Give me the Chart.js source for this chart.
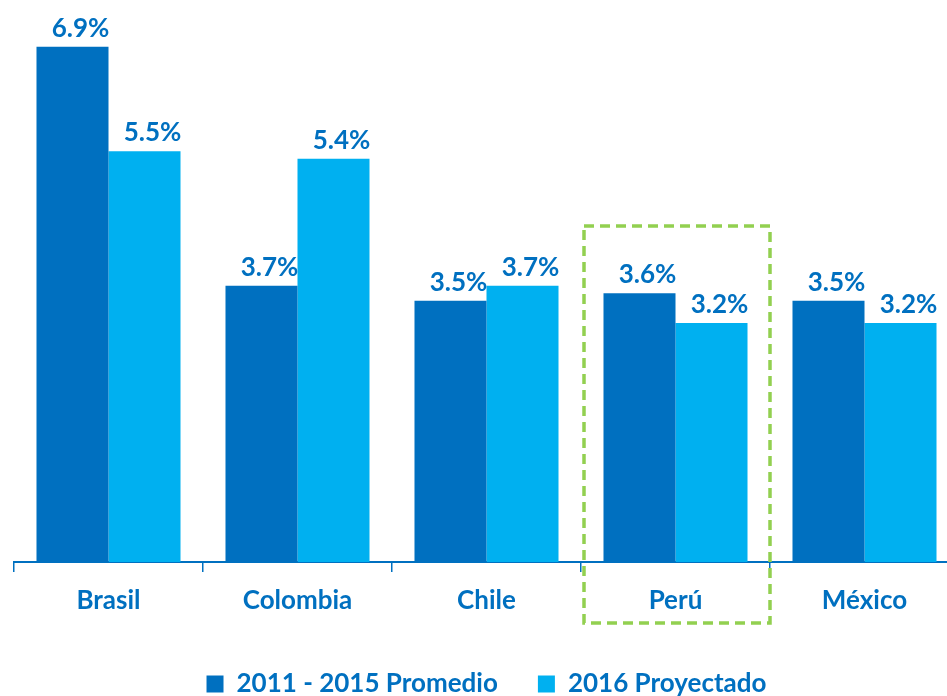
<!DOCTYPE html>
<html>
<head>
<meta charset="utf-8">
<script src="https://cdn.jsdelivr.net/npm/chart.js@4"></script>
<style>
  html, body { margin: 0; padding: 0; background: #fff; overflow: hidden; }
  #wrap { position: relative; width: 987px; height: 696px; }
</style>
</head>
<body>
<div id="wrap"><canvas id="c"></canvas></div>
<script>
const categories = ['Brasil', 'Colombia', 'Chile', 'Perú', 'México'];
const seriesNames = ['2011 - 2015 Promedio', '2016 Proyectado'];
const promedio = [6.9, 3.7, 3.5, 3.6, 3.5];
const proyectado = [5.5, 5.4, 3.7, 3.2, 3.2];
const highlightCategory = 'Perú';

const DARK = '#0070C0';
const LIGHT = '#00B0F0';
const TEXT = '#0070C0';
const GREEN = '#92D050';
const FONT = 'Lato';

const labelPlugin = {
  id: 'valueLabels',
  afterDatasetsDraw(chart) {
    const ctx = chart.ctx;
    ctx.save();
    ctx.font = 'bold 26px ' + FONT;
    ctx.fillStyle = TEXT;
    ctx.textAlign = 'center';
    ctx.textBaseline = 'alphabetic';
    chart.data.datasets.forEach((ds, di) => {
      const meta = chart.getDatasetMeta(di);
      meta.data.forEach((bar, i) => {
        const v = ds.data[i];
        ctx.fillText(v.toFixed(1) + '%', bar.x + 8, bar.y - 10);
      });
    });
    ctx.restore();
  }
};

const boxPlugin = {
  id: 'highlightBox',
  afterDatasetsDraw(chart) {
    const xs = chart.scales.x, ys = chart.scales.y;
    const idx = categories.indexOf(highlightCategory);
    const cx = xs.getPixelForValue(idx);
    const half = (xs.getPixelForValue(1) - xs.getPixelForValue(0)) / 2;
    const left = cx - half + 3, right = cx + half;
    const top = ys.getPixelForValue(4.5);
    const bottom = chart.chartArea.bottom + 61;
    const ctx = chart.ctx;
    ctx.save();
    ctx.strokeStyle = GREEN;
    ctx.lineWidth = 3.5;
    ctx.setLineDash([10, 6]);
    ctx.strokeRect(left, top, right - left, bottom - top);
    ctx.restore();
  }
};

new Chart(document.getElementById('c'), {
  type: 'bar',
  data: {
    labels: categories,
    datasets: [
      { label: seriesNames[0], data: promedio, backgroundColor: DARK, borderWidth: 0 },
      { label: seriesNames[1], data: proyectado, backgroundColor: LIGHT, borderWidth: 0 }
    ]
  },
  options: {
    responsive: true,
    maintainAspectRatio: false,
    animation: false,
    devicePixelRatio: 1,
    layout: { padding: { top: 2, left: 14, right: 28, bottom: -11 } },
    datasets: { bar: { barPercentage: 1.0, categoryPercentage: 0.762 } },
    scales: {
      x: {
        afterFit(scale) { scale.height = 69; },
        grid: { display: true, drawOnChartArea: false, drawTicks: true, tickLength: 10, color: DARK, lineWidth: 1.5 },
        border: { display: true, color: DARK, width: 2 },
        ticks: { color: TEXT, font: { family: FONT, size: 26, weight: 'bold' }, padding: 13 }
      },
      y: { display: false, min: 0, max: 7.5 }
    },
    plugins: {
      legend: {
        position: 'bottom',
        labels: {
          color: TEXT,
          font: { family: FONT, size: 26, weight: 'bold' },
          boxWidth: 17, boxHeight: 17, padding: 40
        }
      },
      tooltip: { enabled: false }
    }
  },
  plugins: [labelPlugin, boxPlugin]
});
</script>
</body>
</html>
